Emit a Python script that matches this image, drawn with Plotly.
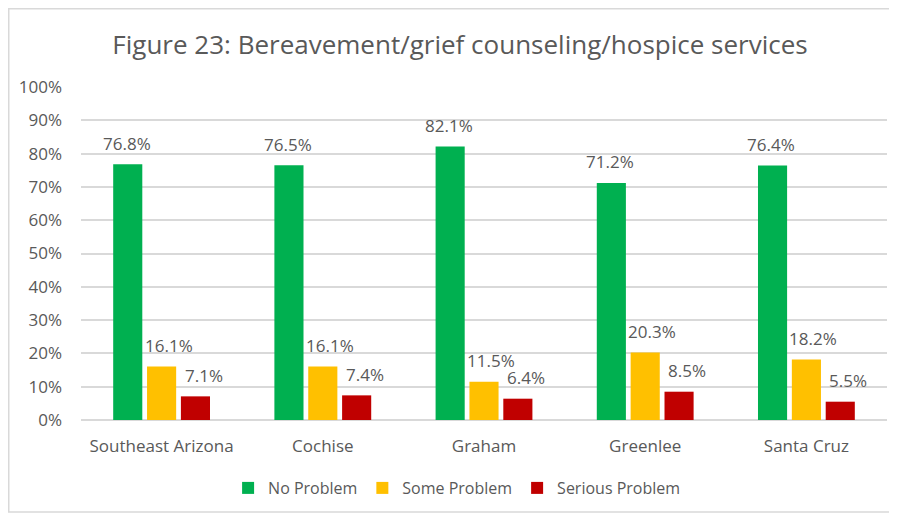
import plotly.graph_objects as go

categories = ["Southeast Arizona", "Cochise", "Graham", "Greenlee", "Santa Cruz"]
no_problem = [76.8, 76.5, 82.1, 71.2, 76.4]
some_problem = [16.1, 16.1, 11.5, 20.3, 18.2]
serious_problem = [7.1, 7.4, 6.4, 8.5, 5.5]
series_names = ["No Problem", "Some Problem", "Serious Problem"]
colors = ["#00B050", "#FFC000", "#C00000"]
y_ticks = list(range(0, 101, 10))
y_tick_labels = [f"{v}%" for v in y_ticks]

font_family = "Open Sans, Noto Sans, sans-serif"
text_color = "#595959"

W, H = 889, 507
L, R, T, B = 73, 10, 79, 95
PW, PH = W - L - R, H - T - B

fig = go.Figure()
all_series = [no_problem, some_problem, serious_problem]
for name, vals, col in zip(series_names, all_series, colors):
    fig.add_trace(go.Bar(
        x=categories, y=vals, name=name, marker=dict(color=col, line=dict(width=0)),
    ))

# data labels as annotations above bars
shifts = [-35, 7, 42]
for vals, xs in zip(all_series, shifts):
    for c, v in zip(categories, vals):
        fig.add_annotation(
            x=c, y=v, text=f"{v:.1f}%", showarrow=False, xshift=xs,
            yshift=21, font=dict(size=17, color=text_color, family=font_family),
        )

fig.update_layout(
    width=W, height=H,
    margin=dict(l=L, r=R, t=T, b=B),
    paper_bgcolor="white", plot_bgcolor="white",
    title=dict(text="Figure 23: Bereavement/grief counseling/hospice services",
               x=452/W, xanchor="center", y=1 - 37/H, yanchor="middle",
               font=dict(size=26, color=text_color, family=font_family)),
    barmode="group", bargap=0.37, bargroupgap=0.14,
    showlegend=True,
    legend=dict(orientation="h", x=0.466, xanchor="center", y=-68/PH, yanchor="middle",
                font=dict(size=16, color=text_color, family=font_family),
                traceorder="normal"),
    xaxis=dict(showline=False, ticks="", automargin=False, ticklabelstandoff=14,
               tickfont=dict(size=17, color=text_color, family=font_family)),
    yaxis=dict(range=[0, 100], tickvals=y_ticks, ticktext=y_tick_labels, automargin=False,
               showgrid=True, gridcolor="#D9D9D9", gridwidth=1.5, zeroline=True,
               zerolinecolor="#D9D9D9", zerolinewidth=1.5,
               ticks="", ticklabelstandoff=18,
               tickfont=dict(size=17, color=text_color, family=font_family)),
    shapes=[dict(type="rect", xref="paper", yref="paper",
                 x0=(0.75 - L)/PW, x1=(885 - L)/PW, y0=-92/PH, y1=(PH + T - 0.75)/PH,
                 line=dict(color="#D9D9D9", width=1.5))],
)

fig.write_html("out.html")
